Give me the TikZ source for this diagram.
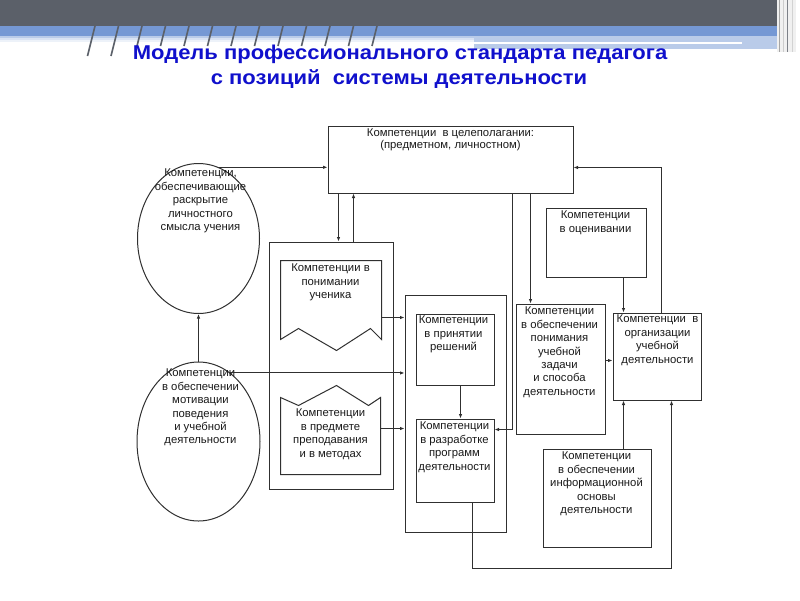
\documentclass[tikz,border=0pt]{standalone}
\usepackage{fontspec}
\setmainfont{Liberation Sans}
\usetikzlibrary{arrows.meta,shapes.geometric}
\definecolor{ln}{HTML}{303030}
\definecolor{tx}{HTML}{1A1A1A}
\definecolor{hdark}{HTML}{5B6069}
\definecolor{hblue}{HTML}{7598D4}
\definecolor{hlight}{HTML}{B9CBE9}
\definecolor{ttl}{HTML}{1010CC}
\begin{document}
\begin{tikzpicture}[x=1pt,y=-1pt,
  box/.style={draw=ln, line width=1pt, inner sep=0pt, anchor=north west},
  oval/.style={draw=ln, line width=1pt, ellipse, inner sep=0pt},
  ghost/.style={draw=none, inner sep=0pt, anchor=north west},
  txt/.style={text=tx, font=\fontsize{11.3}{13.4}\selectfont, align=center, anchor=north, inner sep=0pt},
  wire/.style={draw=ln, line width=1pt},
  arr/.style={wire, -{Latex[length=4.5pt,width=3.5pt]}},
  ttlfont/.style={text=ttl, font=\fontsize{20}{24}\selectfont\bfseries, anchor=base, inner sep=0pt}]
\useasboundingbox (0,0) rectangle (800,600);
\fill[white] (0,0) rectangle (800,600);
% header
\fill[hdark] (0,0) rectangle (777,26);
\fill[hblue] (0,26) rectangle (777,36);
\fill[hlight] (0,36) rectangle (474,38);
\fill[hlight!55] (0,38) rectangle (474,40);
\fill[hlight!25] (0,40) rectangle (474,42);
\fill[hlight] (474,36) rectangle (777,49);
\draw[white, line width=1.6pt] (474,43) -- (742,43);
\fill[gray!12] (777,0) rectangle (796,52);
\draw[gray!70, line width=1pt] (779,0) -- (779,52);
\draw[gray!40, line width=1pt] (783,0) -- (783,52);
\draw[hdark!80, line width=1pt] (787,0) -- (787,52);
\draw[gray!35, line width=1pt] (792,0) -- (792,52);
\foreach \k in {0,1} {\draw[hdark, line width=1.6pt] ({95+23.5*\k},26) -- ({87.5+23.5*\k},56);}
\foreach \k in {2,...,12} {\draw[hdark, line width=1.6pt] ({95+23.5*\k},26) -- ({90+23.5*\k},46);}
% title
\node[ttlfont] (title1) at (400,59) {\scalebox{1.1}[1]{Модель профессионального стандарта педагога}};
\node[ttlfont] (title2) at (399,84) {\scalebox{1.1}[1]{с позиций~ системы деятельности}};
\begin{scope}[shift={(0.5,0.5)}]
% boxes
\node[box, minimum width=245pt, minimum height=67pt] (T) at (327,125) {};
\node[box, minimum width=124pt, minimum height=247pt] (O1) at (268,241) {};
\node[box, minimum width=101pt, minimum height=237pt] (O2) at (404,294) {};
\node[box, minimum width=78pt, minimum height=71pt] (P) at (415,313) {};
\node[box, minimum width=78pt, minimum height=83pt] (R) at (415,418) {};
\node[box, minimum width=89pt, minimum height=130pt] (U) at (515,303) {};
\node[box, minimum width=100pt, minimum height=69pt] (V) at (545,207) {};
\node[box, minimum width=88pt, minimum height=87pt] (G) at (612,312) {};
\node[box, minimum width=108pt, minimum height=98pt] (I) at (542,448) {};
\node[oval, minimum width=122pt, minimum height=150pt] (E1) at (198,238) {};
\node[oval, minimum width=123pt, minimum height=159pt] (E2) at (198,441) {};
% document shapes
\node[ghost, minimum width=101pt, minimum height=90pt] (D1) at (280,260) {};
\node[ghost, minimum width=100pt, minimum height=89pt] (D2) at (280,385) {};
\draw[wire] (280,260) -- (381,260) -- (381,339) -- (370,328) -- (336,350) -- (298,328) -- (280,339) -- cycle;
\draw[wire] (280,474) -- (380,474) -- (380,397) -- (368,405) -- (336,385) -- (298,405) -- (280,397) -- cycle;
% texts
\node[txt, font=\fontsize{11.3}{12}\selectfont] (Tt) at (450,128.5) {Компетенции~ в целеполагании:\\(предметном, личностном)};
\node[txt] (E1t) at (200,168.5) {Компетенции,\\обеспечивающие\\раскрытие\\личностного\\смысла учения};
\node[txt] (D1t) at (330,263.5) {Компетенции в\\понимании\\ученика};
\node[txt] (D2t) at (330,408.5) {Компетенции\\в предмете\\преподавания\\и в методах};
\node[txt] (Pt) at (453,315.5) {Компетенции\\в принятии\\решений};
\node[txt] (Rt) at (454,421.5) {Компетенции\\в разработке\\программ\\деятельности};
\node[txt] (Ut) at (559,306.5) {Компетенции\\в обеспечении\\понимания\\учебной\\задачи\\и способа\\деятельности};
\node[txt] (Vt) at (595,210.5) {Компетенции\\в оценивании};
\node[txt] (Gt) at (657,314.5) {Компетенции~ в\\организации\\учебной\\деятельности};
\node[txt] (It) at (596,451.5) {Компетенции\\в обеспечении\\информационной\\основы\\деятельности};
\node[txt] (E2t) at (200,368.5) {Компетенции\\в обеспечении\\мотивации\\поведения\\и учебной\\деятельности};
% helper coordinates
\coordinate (xa) at (338,0); \coordinate (xb) at (353,0);
\coordinate (xc) at (460,0); \coordinate (xd) at (512,0);
\coordinate (xe) at (530,0); \coordinate (xf) at (623,0);
\coordinate (xg) at (661,0); \coordinate (xh) at (671,0);
\coordinate (xi) at (472,0);
\coordinate (ya) at (0,317); \coordinate (yb) at (0,428);
\coordinate (yc) at (0,429); \coordinate (yd) at (0,360);
\coordinate (ye) at (0,167); \coordinate (yf) at (0,568);
% connectors
\draw[arr] (T.south -| xa) -- (O1.north -| xa);
\draw[arr] (O1.north -| xb) -- (T.south -| xb);
\draw[arr] (E1.74) -- (E1.74 -| T.west);
\draw[arr] (E2.north) -- (E1.south);
\draw[arr] (E2.65) -- (E2.65 -| O2.west);
\draw[arr] (D1.east |- ya) -- (O2.west |- ya);
\draw[arr] (D2.east |- yb) -- (O2.west |- yb);
\draw[arr] (P.south -| xc) -- (R.north -| xc);
\draw[arr] (T.south -| xd) -- (xd |- yc) -- (R.east |- yc);
\draw[arr] (T.south -| xe) -- (U.north -| xe);
\draw[arr] (U.east |- yd) -- (G.west |- yd);
\draw[arr] (V.south -| xf) -- (G.north -| xf);
\draw[arr] (I.north -| xf) -- (G.south -| xf);
\draw[arr] (G.north -| xg) -- (xg |- ye) -- (T.east |- ye);
\draw[arr] (R.south -| xi) -- (xi |- yf) -- (xh |- yf) -- (G.south -| xh);
\end{scope}
\end{tikzpicture}
\end{document}
